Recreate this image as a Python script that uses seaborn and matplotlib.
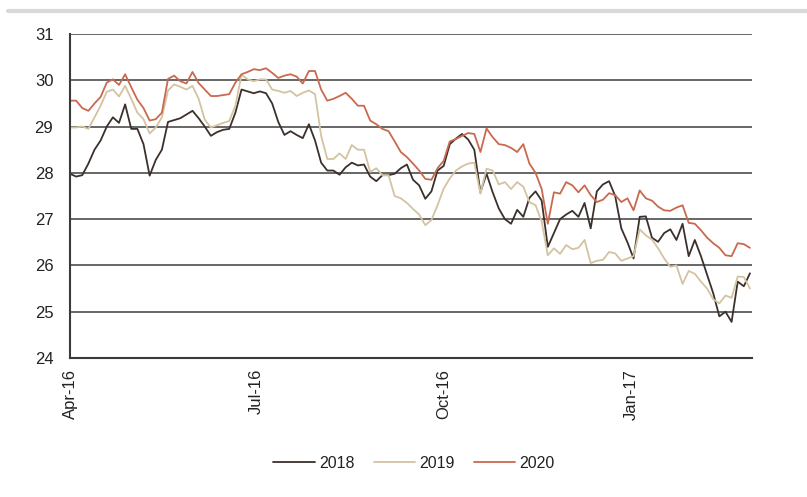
import pandas as pd
import seaborn as sns
import matplotlib.pyplot as plt
import matplotlib.dates as mdates
from matplotlib.ticker import MultipleLocator
from matplotlib.lines import Line2D

# data, every 3 days from 1 Apr 2016
dates = pd.date_range('2016-04-01', periods=112, freq='3D')
years = ['2018', '2019', '2020']

v2018 = [27.98, 27.92, 27.95, 28.2, 28.5, 28.7, 29.0, 29.2, 29.08, 29.48,
         28.95, 28.95, 28.62, 27.94, 28.28, 28.5, 29.1, 29.14, 29.18, 29.26,
         29.34, 29.18, 29.0, 28.8, 28.88, 28.93, 28.95, 29.3, 29.8, 29.76,
         29.72, 29.76, 29.72, 29.5, 29.1, 28.82, 28.9, 28.82, 28.75, 29.05,
         28.7, 28.22, 28.05, 28.05, 27.96, 28.12, 28.22, 28.16, 28.18, 27.92,
         27.82, 27.95, 27.95, 27.98, 28.1, 28.18, 27.85, 27.73, 27.44, 27.6,
         28.05, 28.15, 28.62, 28.74, 28.84, 28.72, 28.5, 27.58, 27.98, 27.58,
         27.23, 27.0, 26.9, 27.2, 27.05, 27.46, 27.6, 27.4, 26.4, 26.7,
         27.0, 27.1, 27.18, 27.05, 27.35, 26.8, 27.6, 27.75, 27.82, 27.5,
         26.8, 26.5, 26.15, 27.05, 27.06, 26.6, 26.51, 26.7, 26.78, 26.55,
         26.9, 26.2, 26.55, 26.2, 25.8, 25.4, 24.9, 25.0, 24.78, 25.65,
         25.55, 25.83]

v2019 = [28.98, 28.98, 29.0, 28.95, 29.2, 29.45, 29.75, 29.8, 29.65, 29.88,
         29.6, 29.3, 29.16, 28.85, 28.98, 29.2, 29.78, 29.91, 29.86, 29.8,
         29.88, 29.6, 29.15, 28.98, 29.03, 29.08, 29.12, 29.45, 30.12, 30.02,
         29.98, 30.02, 30.02, 29.8, 29.77, 29.73, 29.77, 29.66, 29.73, 29.78,
         29.7, 28.8, 28.3, 28.3, 28.42, 28.3, 28.6, 28.5, 28.5, 28.02,
         28.1, 27.95, 27.95, 27.5, 27.45, 27.35, 27.22, 27.1, 26.87, 26.98,
         27.3, 27.66, 27.88, 28.05, 28.14, 28.2, 28.22, 27.55, 28.09, 28.05,
         27.75, 27.8, 27.65, 27.8, 27.7, 27.37, 27.3, 26.95, 26.22, 26.37,
         26.25, 26.44, 26.35, 26.38, 26.55, 26.05, 26.1, 26.12, 26.29, 26.26,
         26.1, 26.15, 26.2, 26.78, 26.65, 26.56, 26.37, 26.15, 25.97, 26.0,
         25.6, 25.88, 25.82, 25.65, 25.5, 25.27, 25.18, 25.35, 25.3, 25.76,
         25.75, 25.5]

v2020 = [29.56, 29.56, 29.4, 29.34, 29.5, 29.64, 29.95, 30.02, 29.9, 30.13,
         29.85, 29.58, 29.4, 29.13, 29.16, 29.3, 30.03, 30.1, 29.98, 29.93,
         30.18, 29.94, 29.8, 29.66, 29.66, 29.68, 29.7, 29.95, 30.13, 30.18,
         30.24, 30.22, 30.26, 30.16, 30.05, 30.1, 30.13, 30.08, 29.93, 30.2,
         30.2, 29.8, 29.56, 29.6, 29.66, 29.73, 29.6, 29.45, 29.45, 29.13,
         29.05, 28.95, 28.9, 28.68, 28.45, 28.34, 28.2, 28.05, 27.87, 27.85,
         28.1, 28.26, 28.68, 28.73, 28.8, 28.86, 28.84, 28.45, 28.96, 28.77,
         28.62, 28.6, 28.54, 28.45, 28.62, 28.2, 28.0, 27.65, 26.9, 27.58,
         27.55, 27.8, 27.73, 27.58, 27.73, 27.52, 27.37, 27.42, 27.56, 27.52,
         27.37, 27.45, 27.19, 27.62, 27.45, 27.4, 27.27, 27.19, 27.18, 27.25,
         27.3, 26.92, 26.9, 26.76, 26.6, 26.48, 26.38, 26.22, 26.2, 26.48,
         26.46, 26.38]

colors = {'2018': '#3b302b', '2019': '#d4c3a1', '2020': '#c9694f'}

df = pd.DataFrame({'date': dates, '2018': v2018, '2019': v2019, '2020': v2020})
long_df = df.melt(id_vars='date', var_name='year', value_name='price')

sns.set_style('white')
plt.rcParams['font.family'] = ['Liberation Sans', 'DejaVu Sans']
plt.rcParams['text.color'] = '#222222'

fig = plt.figure(figsize=(8.07, 4.97), dpi=100)
ax = fig.add_axes([70 / 807, 1 - 358 / 497, (752 - 70) / 807, (358 - 34) / 497])

sns.lineplot(data=long_df, x='date', y='price', hue='year', hue_order=years,
             palette=colors, linewidth=1.3, ax=ax, legend=False)

ax.set_ylim(24, 31)
ax.set_xlim(pd.Timestamp('2016-04-01'), pd.Timestamp('2017-03-01'))
ax.yaxis.set_major_locator(MultipleLocator(1))
ax.xaxis.set_major_locator(mdates.MonthLocator(bymonth=[1, 4, 7, 10]))
ax.xaxis.set_major_formatter(mdates.DateFormatter('%b-%y'))
ax.set_xlabel('')
ax.set_ylabel('')

ax.grid(axis='y', color='#5a5a5a', linewidth=1.3)
ax.grid(axis='x', visible=False)
ax.set_axisbelow(True)
for side in ['top', 'right']:
    ax.spines[side].set_visible(False)
for side in ['left', 'bottom']:
    ax.spines[side].set_color('#3a3a3a')
    ax.spines[side].set_linewidth(1.5)

ax.tick_params(axis='y', length=0, pad=12, labelsize=12, labelcolor='#222222')
ax.tick_params(axis='x', length=0, pad=8, labelsize=12, labelcolor='#222222',
               labelrotation=90)

handles = [Line2D([], [], color=colors[y], linewidth=1.3) for y in years]
fig.legend(handles, years, loc='center', bbox_to_anchor=(414 / 807, 1 - 463 / 497),
           ncol=3, frameon=False, fontsize=11.5, handlelength=2.6,
           handletextpad=0.25, columnspacing=1.2)

# thin grey rule across the top of the figure
fig.add_artist(Line2D([8 / 807, 1.0], [1 - 10.5 / 497] * 2, color='#d9d9d9', linewidth=3))

fig.savefig('out.png', dpi=100)
